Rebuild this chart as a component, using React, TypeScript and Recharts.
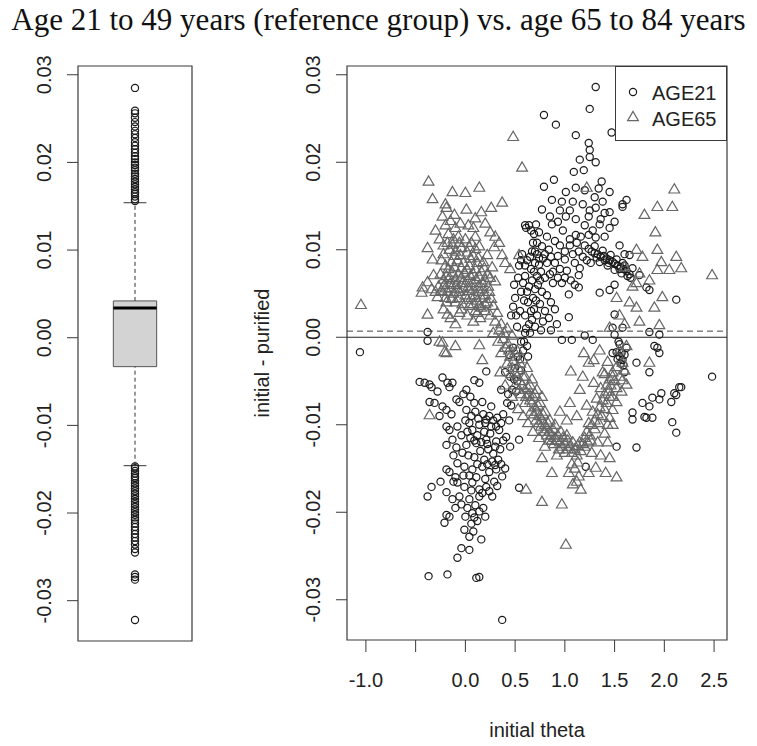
import {
  ComposedChart,
  ScatterChart,
  Scatter,
  XAxis,
  YAxis,
  ReferenceArea,
  ReferenceLine,
  Legend,
} from "recharts";

// shared y scale (initial - purified)
const Y_DOMAIN = [-0.0346, 0.031];
const Y_TICKS = [-0.03, -0.02, -0.01, 0, 0.01, 0.02, 0.03];

// right panel x scale (initial theta)
const X_DOMAIN = [-1.19, 2.63];
const X_TICKS = [-1, -0.5, 0, 0.5, 1, 1.5, 2, 2.5];
const X_TICKS_UNLABELLED = [-0.5];

// boxplot: lower whisker, q1, median, q3, upper whisker
const BOX_STATS = [-0.0146, -0.0033, 0.0034, 0.0042, 0.0154];
const OUTLIERS_HIGH = [
  0.0156, 0.0158, 0.0161, 0.0164, 0.0166, 0.0169, 0.0172, 0.0175, 0.0178, 0.0181,
  0.0184, 0.0187, 0.0191, 0.0194, 0.0197, 0.02, 0.0204, 0.0207, 0.0211, 0.0215,
  0.0219, 0.0223, 0.0228, 0.0232, 0.0236, 0.0241, 0.0246, 0.0251, 0.0256, 0.0259,
  0.0285,
];
const OUTLIERS_LOW = [
  -0.0147, -0.0149, -0.0152, -0.0155, -0.0158, -0.016, -0.0163, -0.0166, -0.0169,
  -0.0172, -0.0175, -0.0178, -0.0181, -0.0184, -0.0187, -0.019, -0.0193, -0.0196,
  -0.0199, -0.0202, -0.0205, -0.0208, -0.0212, -0.0216, -0.022, -0.0224, -0.0228,
  -0.0232, -0.0236, -0.0241, -0.0245, -0.027, -0.0273, -0.0276, -0.0322,
];

const SERIES_NAMES = ["AGE21", "AGE65"];

// [initial theta, initial - purified]
const AGE21: [number, number][] = [
  [-1.06, -0.0017], [2.48, -0.0045], [0.37, -0.0323],
  [-0.38, 0.0006], [-0.38, -0.0004],
  [-0.46, -0.0051], [-0.41, -0.0052], [-0.36, -0.0054], [-0.34, -0.0057],
  [-0.23, -0.0046], [-0.18, -0.0052], [-0.16, -0.0057], [-0.13, -0.0052],
  [0.01, -0.006], [0.09, -0.0049], [0.14, -0.0052], [0.21, -0.0039],
  [-0.36, -0.0074], [-0.31, -0.0075], [-0.23, -0.0079], [-0.19, -0.0083],
  [-0.09, -0.0071], [-0.06, -0.0074], [0.01, -0.0083], [0.09, -0.0075], [0.17, -0.0074], [0.26, -0.0079],
  [-0.19, -0.0102], [-0.16, -0.0106], [-0.08, -0.0102], [0.04, -0.0098], [0.07, -0.0106], [0.14, -0.01],
  [0.21, -0.0094], [0.31, -0.0102], [0.34, -0.0106],
  [-0.19, -0.0123], [-0.09, -0.0126], [0.01, -0.0123], [0.11, -0.0121], [0.21, -0.0117], [0.31, -0.0119], [0.41, -0.0114],
  [-0.19, -0.0151], [-0.16, -0.0154], [-0.08, -0.0144], [-0.01, -0.0148], [0.07, -0.0151], [0.17, -0.0148],
  [0.24, -0.0154], [0.31, -0.0151], [0.37, -0.0159],
  [-0.34, -0.0171], [-0.38, -0.0182], [-0.19, -0.0177],
  [-0.08, -0.0166], [-0.01, -0.0171], [0.07, -0.0166], [0.14, -0.0174], [0.21, -0.0171], [0.27, -0.0182],
  [-0.06, -0.0182], [0.04, -0.0185], [0.14, -0.0182],
  [-0.04, -0.0191], [0.07, -0.0201], [0.14, -0.0199], [0.09, -0.0206],
  [-0.19, -0.0203], [-0.16, -0.0205], [-0.21, -0.0212],
  [-0.01, -0.022], [0.04, -0.0228], [0.16, -0.0231],
  [-0.04, -0.0241], [0.04, -0.0243], [-0.08, -0.0252],
  [-0.37, -0.0273], [-0.18, -0.0271], [0.11, -0.0275], [0.14, -0.0274],
  [0.54, -0.0117], [0.54, -0.0172],
  [0.1, -0.0085], [0.18, -0.0088], [0.24, -0.009], [0.28, -0.0095], [0.12, -0.0112], [0.19, -0.0108],
  [0.25, -0.011], [0.36, -0.0098], [0.05, -0.0115], [0.15, -0.013], [0.23, -0.0128], [0.28, -0.0133],
  [0.35, -0.0128], [0.09, -0.0137], [0.19, -0.014], [0.27, -0.0142], [0.33, -0.014], [0.04, -0.0158],
  [0.11, -0.016], [0.2, -0.0162], [0.29, -0.0165], [0.02, -0.0195], [0.1, -0.0192], [0.18, -0.0195],
  [0.12, -0.021], [0.06, -0.0213], [-0.12, -0.0135], [-0.03, -0.0132], [-0.13, -0.0117], [-0.04, -0.0112],
  [-0.26, -0.009], [-0.14, -0.0088], [-0.28, -0.0062], [-0.02, -0.0065], [0.05, -0.0068], [-0.1, -0.016],
  [-0.13, -0.0185], [0.38, -0.0088], [0.44, -0.0095], [0.45, -0.0125], [0.4, -0.015],
  [0.0, -0.0095], [0.06, -0.009], [0.13, -0.0093], [0.2, -0.0098], [0.26, -0.0102], [0.32, -0.0092],
  [0.02, -0.0108], [0.09, -0.0118], [0.16, -0.012], [0.22, -0.0122], [0.3, -0.0125], [0.38, -0.0118],
  [0.03, -0.0135], [0.12, -0.0145], [0.22, -0.0145], [0.3, -0.0146], [0.36, -0.0145], [0.06, -0.0175],
  [0.17, -0.0178], [0.24, -0.0176], [0.32, -0.017], [-0.02, -0.0158], [-0.12, -0.0165], [-0.25, -0.0165],
  [0.0, -0.0205], [0.2, -0.0205], [0.08, -0.0222], [-0.1, -0.0195],
  [0.42, -0.0075], [0.47, -0.006], [0.45, -0.0045], [0.5, -0.0035], [0.52, -0.005], [0.55, -0.0025],
  [0.58, -0.0015], [0.56, -0.0005], [0.6, 0.0005], [0.62, -0.001], [0.64, 0.0015], [0.6, 0.0025],
  [0.66, 0.003], [0.68, 0.0045], [0.63, 0.004], [0.7, 0.0055], [0.67, 0.0065], [0.72, 0.007],
  [0.66, 0.0078], [0.7, 0.0085], [0.74, 0.009], [0.62, 0.0088], [0.58, 0.0062], [0.55, 0.003],
  [0.52, 0.0012], [0.48, -0.0012], [0.44, -0.002], [0.4, -0.004], [0.36, -0.006], [0.5, 0.0045],
  [0.46, 0.0025], [0.57, 0.0095], [0.53, 0.0068], [0.49, 0.006],
  [0.43, -0.0065], [0.46, -0.0078], [0.49, -0.0048], [0.51, -0.0062], [0.53, -0.0022], [0.56, -0.0038],
  [0.59, -0.0005], [0.61, 0.001], [0.63, -0.0022], [0.65, 0.0005], [0.67, 0.002], [0.69, 0.0032],
  [0.71, 0.0042], [0.64, 0.0058], [0.69, 0.0075], [0.72, 0.0095], [0.75, 0.0065], [0.6, 0.007],
  [0.56, 0.0052], [0.51, 0.0025], [0.48, 0.0035], [0.59, 0.0042], [0.62, 0.0052], [0.54, 0.0082], [0.68, 0.0108],
  [0.61, 0.0125], [0.64, 0.0128], [0.69, 0.0118],
  [0.56, 0.0088], [0.6, 0.0082], [0.65, 0.0092], [0.7, 0.0098], [0.74, 0.0083], [0.78, 0.009],
  [0.82, 0.0085], [0.76, 0.0075], [0.8, 0.0068], [0.85, 0.0072], [0.88, 0.0062], [0.73, 0.006],
  [0.77, 0.0052], [0.82, 0.0048], [0.86, 0.004], [0.75, 0.0038], [0.8, 0.003], [0.9, 0.0032],
  [0.72, 0.0025], [0.78, 0.0018], [0.84, 0.0022], [0.92, 0.0015], [0.7, 0.0012], [0.76, 0.0008], [0.86, 0.0008],
  [1.31, 0.0286], [1.25, 0.0261], [0.79, 0.0254], [0.91, 0.0243], [1.11, 0.0231], [1.47, 0.0234],
  [1.24, 0.0222], [1.25, 0.0214], [1.25, 0.0206], [1.15, 0.0203], [1.31, 0.02], [1.09, 0.0189],
  [1.19, 0.0191], [0.79, 0.0172], [0.89, 0.018], [1.37, 0.0178], [1.01, 0.0166], [1.11, 0.0171],
  [1.2, 0.0168], [1.45, 0.0166], [1.62, 0.0157], [1.58, 0.0152], [0.87, 0.0157], [0.97, 0.0155],
  [1.08, 0.0155], [0.77, 0.0146], [1.31, 0.0148], [1.45, 0.0143], [1.58, 0.0149], [1.01, 0.0138],
  [1.11, 0.0135], [1.24, 0.0138], [1.36, 0.0135], [1.4, 0.0142], [0.71, 0.0129], [0.87, 0.0129],
  [0.93, 0.0132], [0.98, 0.0122], [1.35, 0.0129], [1.45, 0.0125], [1.5, 0.0132], [1.11, 0.0117],
  [1.24, 0.0117], [1.31, 0.0114], [1.05, 0.0112], [0.6, 0.0128], [0.66, 0.0122], [0.74, 0.012],
  [0.82, 0.0115], [0.9, 0.011], [0.95, 0.0105], [1.0, 0.0098],
  [0.8, 0.0095], [0.86, 0.0092], [0.9, 0.0085], [0.95, 0.0078], [0.88, 0.0075], [0.93, 0.0068],
  [0.97, 0.0062], [1.0, 0.0068], [1.06, 0.0065], [1.1, 0.006], [1.18, 0.0092], [1.22, 0.0088],
  [1.26, 0.0085], [1.05, 0.0105], [1.12, 0.0108], [1.16, 0.0115], [1.28, 0.0122], [1.2, 0.0128],
  [1.25, 0.0145], [1.18, 0.0152], [1.3, 0.016], [1.34, 0.017], [1.38, 0.0155], [1.05, 0.0145],
  [0.95, 0.0145], [0.85, 0.0138], [1.4, 0.0115], [1.55, 0.0105], [1.6, 0.0095],
  [1.2, 0.0105], [1.24, 0.0101], [1.27, 0.0098], [1.3, 0.0096], [1.33, 0.0095], [1.36, 0.0092],
  [1.39, 0.0093], [1.42, 0.009], [1.45, 0.0088], [1.48, 0.0086], [1.5, 0.0084], [1.53, 0.0082],
  [1.56, 0.008], [1.59, 0.0078], [1.62, 0.0076], [1.65, 0.0072], [1.3, 0.0104], [1.38, 0.0099],
  [1.46, 0.0094], [1.52, 0.0089], [1.58, 0.0085], [1.35, 0.0086], [1.43, 0.0082], [1.5, 0.0077], [1.57, 0.0073],
  [1.32, 0.0091], [1.4, 0.0088], [1.44, 0.0085], [1.55, 0.0078], [1.6, 0.0082], [1.63, 0.007], [1.66, 0.0068],
  [0.67, 0.0098], [0.72, 0.0108], [0.77, 0.0104], [0.84, 0.01], [0.93, 0.0093], [1.0, 0.0089],
  [1.08, 0.0095], [1.14, 0.0098], [1.1, 0.0085], [1.02, 0.0076], [1.15, 0.0079],
  [1.14, 0.0071], [1.14, 0.0057], [1.04, 0.0049], [1.04, 0.0023], [1.35, 0.0051], [1.45, 0.0054], [1.5, 0.006],
  [1.65, 0.0094], [1.68, 0.0079], [1.75, 0.0071], [1.82, 0.0057], [1.85, 0.0054], [2.12, 0.0043],
  [1.5, 0.0026], [1.48, 0.0011], [1.58, 0.0011], [1.85, 0.0006], [1.95, 0.0003],
  [0.97, -0.0003], [1.07, -0.0003], [1.28, -0.0003], [1.2, 0.0002],
  [1.5, 0.0003], [1.54, -0.0005], [1.52, -0.0017], [1.55, -0.0022], [1.58, -0.0026], [1.6, -0.002],
  [1.56, -0.003], [1.62, -0.0012], [1.72, -0.0029], [1.85, -0.004], [1.9, -0.001], [1.93, -0.0012],
  [1.95, -0.0018], [1.48, -0.0018], [1.53, -0.0025], [1.57, -0.0018], [1.59, -0.0032], [1.6, -0.004],
  [1.55, -0.0008],
  [2.15, -0.0057], [2.1, -0.0064], [2.07, -0.0074], [1.97, -0.0064], [1.95, -0.0071], [1.88, -0.0069],
  [1.78, -0.0075], [1.85, -0.0079], [1.8, -0.0091], [1.68, -0.0086], [1.68, -0.0094], [1.88, -0.0092],
  [1.82, -0.0092], [2.08, -0.0097], [2.12, -0.0109], [2.17, -0.0057], [2.12, -0.0066],
  [1.52, -0.0125], [1.72, -0.0126], [1.21, -0.0148],
];

const AGE65: [number, number][] = [
  [-1.05, 0.0037], [2.48, 0.0071], [0.48, 0.0229], [0.57, 0.0194], [1.01, -0.0237],
  [-0.37, 0.0178], [-0.33, 0.0158], [-0.13, 0.0166], [0.0, 0.0165], [0.14, 0.0171], [0.37, 0.0154],
  [0.26, 0.0148], [0.16, 0.0143], [0.01, 0.0146], [-0.19, 0.0148], [-0.11, 0.014], [-0.38, 0.0102],
  [-0.33, 0.0089], [0.54, 0.0094], [0.37, 0.0094], [0.29, 0.0103], [-0.32, 0.0071], [-0.38, 0.0063],
  [-0.43, 0.0057], [-0.44, 0.0051], [-0.38, 0.0026], [-0.19, 0.004], [-0.18, 0.0026],
  [-0.2, 0.0128], [-0.15, 0.0133], [-0.1, 0.0125], [-0.05, 0.013], [0.03, 0.0128], [0.08, 0.0125],
  [-0.17, 0.0118], [-0.12, 0.0112], [-0.07, 0.0115], [0.0, 0.0112], [0.06, 0.0108], [0.1, 0.0115],
  [0.14, 0.0104], [-0.22, 0.0105], [-0.16, 0.01], [-0.1, 0.0098], [-0.04, 0.0102], [0.02, 0.0097],
  [0.08, 0.0093], [0.13, 0.0091], [0.18, 0.0086], [0.22, 0.0094], [-0.24, 0.0088], [-0.2, 0.0082],
  [-0.14, 0.0086], [-0.08, 0.0088], [-0.02, 0.0085], [0.04, 0.0082], [0.1, 0.0078], [0.16, 0.0075],
  [0.22, 0.0072], [0.27, 0.008], [-0.25, 0.0072], [-0.19, 0.007], [-0.13, 0.0074], [-0.07, 0.0072],
  [-0.01, 0.0074], [0.05, 0.007], [0.11, 0.0066], [0.17, 0.0062], [0.23, 0.0058], [0.3, 0.0064],
  [-0.27, 0.0058], [-0.21, 0.006], [-0.15, 0.0062], [-0.09, 0.006], [-0.03, 0.0062], [0.03, 0.0058],
  [0.08, 0.0055], [0.14, 0.0052], [0.2, 0.0048], [0.26, 0.0044], [-0.3, 0.0052], [-0.24, 0.0053],
  [-0.18, 0.0052], [-0.12, 0.005], [-0.06, 0.0052], [0.0, 0.0048], [0.06, 0.0045], [0.12, 0.0042],
  [-0.34, 0.0055], [-0.28, 0.0046], [-0.1, 0.004], [-0.03, 0.0038], [0.04, 0.0036], [0.1, 0.003],
  [0.16, 0.0034], [-0.22, 0.0032], [-0.15, 0.0022], [-0.06, 0.0028], [0.02, 0.0025], [-0.1, 0.0015],
  [0.08, 0.0018], [0.15, 0.0022], [0.2, 0.003],
  [-0.18, 0.0108], [-0.13, 0.0106], [-0.06, 0.0108], [0.04, 0.0103], [0.1, 0.0101], [-0.22, 0.0095],
  [-0.11, 0.0093], [-0.05, 0.0094], [0.05, 0.009], [0.12, 0.0085], [0.19, 0.0079], [-0.17, 0.0078],
  [-0.11, 0.008], [-0.04, 0.0079], [0.02, 0.0077], [0.08, 0.0072], [0.14, 0.0069], [0.2, 0.0065],
  [0.25, 0.0068], [-0.22, 0.0066], [-0.16, 0.0068], [-0.1, 0.0066], [-0.04, 0.0068], [0.02, 0.0065],
  [0.07, 0.0062], [0.13, 0.0058], [0.18, 0.0055], [0.24, 0.0052], [-0.2, 0.0056], [-0.14, 0.0056],
  [-0.08, 0.0055], [-0.02, 0.0056], [0.04, 0.0053], [0.1, 0.0048], [0.16, 0.0045], [0.22, 0.004],
  [0.28, 0.0036], [-0.2, 0.0045], [-0.14, 0.0044], [-0.06, 0.0045], [0.02, 0.0043], [0.08, 0.0038],
  [0.14, 0.0036], [0.2, 0.0038], [-0.04, 0.0032], [0.12, 0.0028],
  [-0.23, 0.0138], [-0.2, 0.0152], [0.1, 0.0136], [0.2, 0.013], [0.25, 0.012], [0.3, 0.0115],
  [0.34, 0.0108], [0.4, 0.0085], [0.45, 0.0078], [-0.3, 0.0122], [-0.26, 0.0112], [1.22, 0.0171],
  [0.25, 0.0025], [0.3, 0.0018], [0.28, 0.0005], [0.34, 0.0008], [0.33, -0.0005], [0.38, -0.0002],
  [0.4, -0.0012], [0.36, -0.0018], [0.43, -0.0008], [0.45, -0.0022], [0.42, -0.003], [0.48, -0.0028],
  [0.5, -0.004], [0.46, -0.0042], [0.53, -0.0035], [0.55, -0.005], [0.5, -0.0055], [0.58, -0.0045],
  [0.6, -0.006], [0.56, -0.0065], [0.63, -0.0058], [0.65, -0.0072], [0.6, -0.0075], [0.68, -0.0068],
  [0.7, -0.008], [0.66, -0.0085], [0.73, -0.0078], [0.75, -0.009], [0.71, -0.0095], [0.78, -0.0088],
  [0.8, -0.01], [0.76, -0.0102], [0.83, -0.0098], [0.85, -0.0108], [0.82, -0.0112], [0.88, -0.0105],
  [0.9, -0.0115], [0.87, -0.0118], [0.93, -0.0112], [0.95, -0.012], [0.98, -0.0115], [1.0, -0.0122],
  [1.03, -0.0118], [1.05, -0.0125], [1.08, -0.012], [1.1, -0.0128], [1.13, -0.0124], [1.16, -0.013],
  [0.32, 0.0028], [0.36, 0.0015], [0.39, 0.0005], [0.44, -0.0015], [0.47, -0.0035], [0.52, -0.0045],
  [0.54, -0.006], [0.57, -0.0055], [0.61, -0.0068], [0.64, -0.0065], [0.67, -0.0075], [0.69, -0.0088],
  [0.72, -0.0085], [0.74, -0.0098], [0.77, -0.0095], [0.79, -0.0108], [0.82, -0.0105], [0.84, -0.0118],
  [0.86, -0.0112], [0.89, -0.0122], [0.92, -0.0118], [0.94, -0.0128], [0.97, -0.0125], [1.0, -0.0132],
  [1.03, -0.0128], [1.07, -0.0132], [1.12, -0.0135], [1.15, -0.012], [0.5, -0.0018], [0.55, -0.003],
  [0.6, -0.0045], [0.65, -0.0055], [0.7, -0.0065], [0.75, -0.0075], [0.8, -0.0085], [0.85, -0.0095],
  [0.9, -0.01], [0.96, -0.0108], [1.02, -0.0112],
  [0.42, 0.001], [0.47, 0.0002], [0.52, -0.0015], [0.57, -0.0025], [0.62, -0.0035], [0.67, -0.0048],
  [0.72, -0.006], [0.77, -0.0068], [0.35, -0.004], [0.4, -0.0055], [0.47, -0.0068], [0.53, -0.0082],
  [0.58, -0.009], [0.63, -0.0098], [0.68, -0.0108], [0.74, -0.0115], [0.8, -0.0125], [0.92, -0.0135],
  [-0.21, -0.0017], [0.61, -0.0174], [-0.36, -0.0089], [-0.19, -0.0018], [-0.23, -0.0006],
  [0.17, -0.0026], [0.14, -0.0009], [-0.26, -0.0005], [-0.1, -0.001],
  [1.04, -0.0155], [1.14, -0.0159], [1.24, -0.0155], [1.31, -0.0149], [1.41, -0.0155], [1.52, -0.016],
  [1.07, -0.0145], [1.1, -0.015], [1.12, -0.0165], [1.08, -0.0168], [1.16, -0.0174], [1.13, -0.0143],
  [0.97, -0.0191], [0.77, -0.0188], [0.77, -0.0138], [0.87, -0.0155],
  [1.18, -0.0122], [1.2, -0.0115], [1.22, -0.0108], [1.25, -0.0112], [1.27, -0.01], [1.3, -0.0095],
  [1.28, -0.0085], [1.33, -0.0088], [1.35, -0.008], [1.32, -0.007], [1.38, -0.0072], [1.4, -0.0065],
  [1.36, -0.0058], [1.42, -0.0055], [1.45, -0.0048], [1.4, -0.0042], [1.48, -0.004], [1.45, -0.0068],
  [1.48, -0.0083], [1.43, -0.01], [1.48, -0.01], [1.43, -0.012], [1.52, -0.0074], [1.48, -0.0068],
  [1.62, -0.0054], [1.58, -0.0049], [1.48, -0.0045], [1.52, -0.0034], [1.43, -0.0028], [1.58, -0.0029],
  [1.85, -0.0029], [1.38, -0.004], [1.19, -0.0018], [1.29, -0.0026], [1.24, -0.0029], [1.06, -0.0039],
  [1.29, -0.0052], [1.15, -0.006], [1.22, -0.0078], [1.12, -0.009], [1.02, -0.0095], [0.95, -0.0085],
  [1.05, -0.0075], [1.18, -0.0045], [1.35, -0.0015], [1.55, -0.0015], [1.62, -0.001],
  [1.2, -0.0125], [1.23, -0.012], [1.26, -0.0118], [1.24, -0.0098], [1.3, -0.0105], [1.34, -0.0098],
  [1.37, -0.009], [1.4, -0.0082], [1.42, -0.0075], [1.44, -0.0062], [1.46, -0.0055], [1.5, -0.005],
  [1.52, -0.0058], [1.55, -0.0045], [1.6, -0.0038], [1.57, -0.0062], [1.45, -0.0092], [1.4, -0.011],
  [1.33, -0.012], [1.27, -0.0132], [1.36, -0.0135], [1.45, -0.0138],
  [2.1, 0.0169], [1.93, 0.0149], [2.08, 0.0149], [1.8, 0.014], [1.91, 0.012], [1.72, 0.01],
  [1.78, 0.0092], [1.93, 0.01], [1.97, 0.0086], [2.12, 0.0092], [2.17, 0.0079], [1.75, 0.0073],
  [1.72, 0.0062], [1.93, 0.0077], [2.05, 0.0077], [1.52, 0.0045], [1.65, 0.004], [1.9, 0.0034],
  [1.98, 0.0046], [1.72, 0.0034], [1.75, 0.0018], [1.95, 0.0014], [1.45, 0.0011], [1.6, 0.0015],
  [1.68, 0.0058], [1.85, 0.0065], [1.6, 0.008], [1.55, 0.0025],
];

// dashed reference line (mean difference)
const MEAN_DIFF = 0.0007;

const FONT = "'Liberation Sans', Arial, sans-serif";
const CIRCLE_COLOR = "#1a1a1a";
const TRIANGLE_COLOR = "#666";
const FRAME_COLOR = "#3a3a3a";

const circleShape = (props: any) => (
  <circle cx={props.cx} cy={props.cy} r={3.6} fill="none" stroke={CIRCLE_COLOR} strokeWidth={1.2} />
);

const triangleShape = (props: any) => {
  const { cx, cy } = props;
  return (
    <polygon
      points={`${cx},${cy - 5.6} ${cx - 5.4},${cy + 3.6} ${cx + 5.4},${cy + 3.6}`}
      fill="none"
      stroke={TRIANGLE_COLOR}
      strokeWidth={1.2}
    />
  );
};

const YTick = (props: any) => {
  const { x, y, payload } = props;
  return (
    <text
      x={x}
      y={y}
      transform={`rotate(-90 ${x} ${y})`}
      textAnchor="middle"
      fontSize={20}
      fontFamily={FONT}
      fill="#222"
    >
      {Number(payload.value).toFixed(2)}
    </text>
  );
};

const XTick = (props: any) => {
  const { x, y, payload } = props;
  if (X_TICKS_UNLABELLED.includes(payload.value)) return <g />;
  return (
    <text x={x} y={y + 35} textAnchor="middle" fontSize={20} fontFamily={FONT} fill="#222">
      {Number(payload.value).toFixed(1)}
    </text>
  );
};

const LegendBox = () => (
  <div
    style={{
      width: 112,
      height: 75,
      boxSizing: "border-box",
      border: `1px solid ${FRAME_COLOR}`,
      background: "#fff",
    }}
  >
    <svg width={110} height={73}>
      <circle cx={17} cy={25} r={3.6} fill="none" stroke={CIRCLE_COLOR} strokeWidth={1.2} />
      <polygon points="17,44.4 11.6,53.6 22.4,53.6" fill="none" stroke={TRIANGLE_COLOR} strokeWidth={1.2} />
      <text x={36} y={33} fontSize={20} fontFamily={FONT} fill="#222">
        {SERIES_NAMES[0]}
      </text>
      <text x={36} y={59} fontSize={20} fontFamily={FONT} fill="#222">
        {SERIES_NAMES[1]}
      </text>
    </svg>
  </div>
);

export default function App() {
  const [lowW, q1, med, q3, highW] = BOX_STATS;
  const outliers = [...OUTLIERS_HIGH, ...OUTLIERS_LOW].map((y) => ({ x: 1, y }));
  const age21 = AGE21.map(([x, y]) => ({ x, y }));
  const age65 = AGE65.map(([x, y]) => ({ x, y }));

  return (
    <div style={{ position: "absolute", left: 0, top: 0, width: 757, height: 746, background: "#fff" }}>
      <svg width={757} height={40} style={{ position: "absolute", left: 0, top: 0 }}>
        <text
          x={378.5}
          y={30}
          textAnchor="middle"
          fontSize={31}
          fontFamily="'Liberation Serif', 'Times New Roman', serif"
          fill="#111"
        >
          Age 21 to 49 years (reference group) vs. age 65 to 84 years
        </text>
      </svg>

      {/* left panel: boxplot of all differences */}
      <div style={{ position: "absolute", left: 0, top: 0 }}>
        <ComposedChart width={200} height={746} margin={{ top: 66, right: 8, bottom: 105, left: 18 }}>
          <XAxis type="number" dataKey="x" domain={[0.5, 1.5]} hide allowDataOverflow />
          <YAxis
            type="number"
            dataKey="y"
            domain={Y_DOMAIN}
            ticks={Y_TICKS}
            allowDataOverflow
            width={60}
            axisLine={false}
            tickSize={11}
            tickMargin={16}
            tickLine={{ stroke: FRAME_COLOR }}
            tick={YTick}
          />
          <ReferenceLine
            segment={[{ x: 1, y: q3 }, { x: 1, y: highW }]}
            stroke="#333"
            strokeDasharray="4 3"
          />
          <ReferenceLine
            segment={[{ x: 1, y: lowW }, { x: 1, y: q1 }]}
            stroke="#333"
            strokeDasharray="4 3"
          />
          <ReferenceLine segment={[{ x: 0.9, y: highW }, { x: 1.1, y: highW }]} stroke="#333" />
          <ReferenceLine segment={[{ x: 0.9, y: lowW }, { x: 1.1, y: lowW }]} stroke="#333" />
          <ReferenceArea x1={0.81} x2={1.19} y1={q1} y2={q3} fill="#d3d3d3" fillOpacity={1} stroke="#555" />
          <ReferenceLine segment={[{ x: 0.81, y: med }, { x: 1.19, y: med }]} stroke="#000" strokeWidth={3} />
          <Scatter data={outliers} shape={circleShape} isAnimationActive={false} />
          <ReferenceArea
            x1={0.5}
            x2={1.5}
            y1={Y_DOMAIN[0]}
            y2={Y_DOMAIN[1]}
            fill="none"
            stroke={FRAME_COLOR}
            strokeWidth={1.2}
          />
        </ComposedChart>
      </div>

      {/* right panel: scatter by group */}
      <div style={{ position: "absolute", left: 0, top: 0 }}>
        <ScatterChart width={757} height={746} margin={{ top: 66, right: 30, bottom: 46, left: 287 }}>
          <XAxis
            type="number"
            dataKey="x"
            domain={X_DOMAIN}
            ticks={X_TICKS}
            allowDataOverflow
            height={60}
            axisLine={false}
            tickSize={12}
            tickMargin={0}
            tickLine={{ stroke: FRAME_COLOR }}
            tick={XTick}
            label={{
              content: (p: any) => {
                const vb = p.viewBox;
                return (
                  <text
                    x={vb.x + vb.width / 2}
                    y={737}
                    textAnchor="middle"
                    fontSize={20}
                    fontFamily={FONT}
                    fill="#222"
                  >
                    initial theta
                  </text>
                );
              },
            }}
          />
          <YAxis
            type="number"
            dataKey="y"
            domain={Y_DOMAIN}
            ticks={Y_TICKS}
            allowDataOverflow
            width={60}
            axisLine={false}
            tickSize={11}
            tickMargin={16}
            tickLine={{ stroke: FRAME_COLOR }}
            tick={YTick}
            label={{
              content: (p: any) => {
                const vb = p.viewBox;
                const cx = 269;
                const cy = vb.y + vb.height / 2;
                return (
                  <text
                    x={cx}
                    y={cy}
                    transform={`rotate(-90 ${cx} ${cy})`}
                    textAnchor="middle"
                    fontSize={20}
                    fontFamily={FONT}
                    fill="#222"
                  >
                    initial - purified
                  </text>
                );
              },
            }}
          />
          <ReferenceLine y={0} stroke="#222" strokeWidth={1.2} />
          <ReferenceLine y={MEAN_DIFF} stroke="#444" strokeDasharray="6 4" />
          <Scatter name={SERIES_NAMES[0]} data={age21} shape={circleShape} isAnimationActive={false} />
          <Scatter name={SERIES_NAMES[1]} data={age65} shape={triangleShape} isAnimationActive={false} />
          <ReferenceArea
            x1={X_DOMAIN[0]}
            x2={X_DOMAIN[1]}
            y1={Y_DOMAIN[0]}
            y2={Y_DOMAIN[1]}
            fill="none"
            stroke={FRAME_COLOR}
            strokeWidth={1.2}
          />
          <Legend
            layout="vertical"
            align="center"
            verticalAlign="middle"
            content={LegendBox}
            wrapperStyle={{ position: "absolute", left: 615, top: 66, width: 112, height: 75 }}
          />
        </ScatterChart>
      </div>
    </div>
  );
}
